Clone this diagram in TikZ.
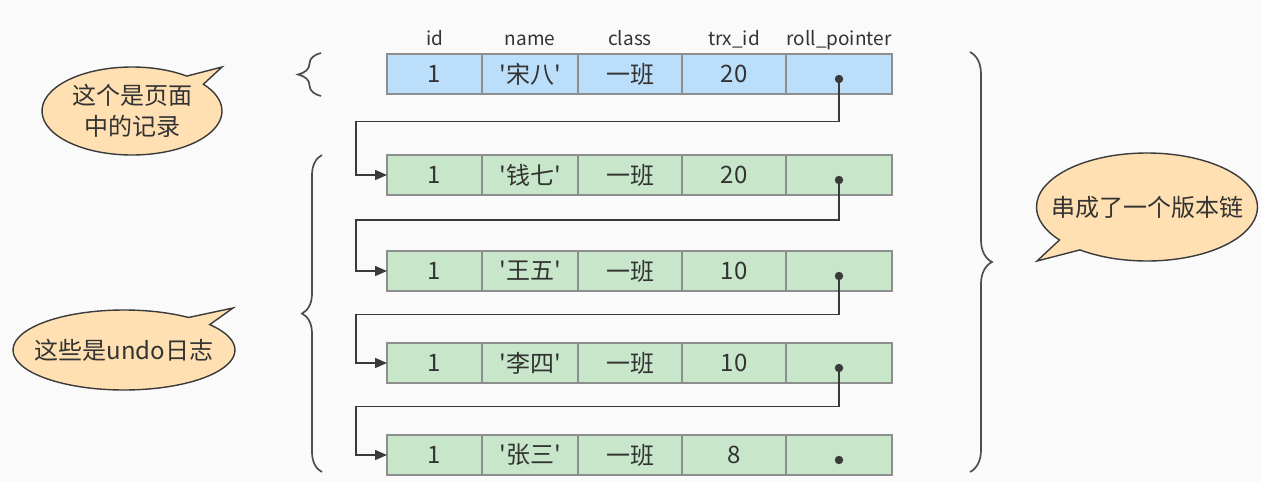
\documentclass[tikz,border=0pt]{standalone}
\usepackage{fontspec}
\setmainfont{Noto Sans CJK SC}
\usetikzlibrary{positioning}
\usetikzlibrary{calc}
\usetikzlibrary{arrows.meta}
\usetikzlibrary{shapes.callouts}
\usetikzlibrary{decorations.pathreplacing}

\definecolor{bgc}{HTML}{FAFAFA}
\definecolor{rowblue}{HTML}{BBDEFB}
\definecolor{rowgreen}{HTML}{C8E6C9}
\definecolor{cellline}{HTML}{8E8E8E}
\definecolor{bubblec}{HTML}{FFE0B2}
\definecolor{inkc}{HTML}{333333}
\definecolor{ptrc}{HTML}{3A3A3A}

\tikzset{
    cell/.style={draw=cellline, line width=1.3pt, minimum height=40pt, inner sep=0pt, outer sep=0pt,
        text=inkc, font=\fontsize{24}{24}\selectfont},
    head/.style={text=inkc, inner sep=0pt, anchor=base, font=\fontsize{19}{19}\selectfont},
    ptr/.style={draw=ptrc, line width=1.6pt, -{Triangle[length=12pt,width=10pt]}},
    brc/.style={draw=ptrc!90, line width=1.7pt, decorate, decoration={brace, amplitude=#1}},
    bubble/.style={ellipse callout, draw=ptrc, line width=1.4pt, fill=bubblec, text=inkc,
        inner xsep=-40pt, inner ysep=0pt, align=center,
        font=\fontsize{24}{31}\selectfont},
}

\begin{document}
\begin{tikzpicture}[x=1pt, y=-1pt]
    \fill[bgc] (0,0) rectangle (1261,482);
    \useasboundingbox (0,0) rectangle (1261,482);

    % rows
    \foreach \r/\y/\nm/\trx/\fc in {a/54/宋八/20/rowblue, b/155/钱七/20/rowgreen, c/251/王五/10/rowgreen, d/343/李四/10/rowgreen, e/435/张三/8/rowgreen}{
        \node[cell, fill=\fc, minimum width=95pt, anchor=north west] (\r1) at (387,\y) {1};
        \node[cell, fill=\fc, minimum width=96pt, right=0pt of \r1] (\r2) {\textquotesingle\nm\textquotesingle};
        \node[cell, fill=\fc, minimum width=104pt, right=0pt of \r2] (\r3) {一班};
        \node[cell, fill=\fc, minimum width=104pt, right=0pt of \r3] (\r4) {\trx};
        \node[cell, fill=\fc, minimum width=106pt, right=0pt of \r4] (\r5) {};
        \coordinate (\r p) at ($(\r5.center)+(0,5)$);
        \fill[ptrc] (\r p) circle (4.2pt);
    }

    % header
    \foreach \t [count=\c] in {id, name, class, trx\_id, roll\_pointer}
        \node[head] (h\c) at ($(a\c.north)+(0,-9)$) {\t};

    % roll pointers
    \foreach \s/\t in {a/b, b/c, c/d, d/e}
        \draw[ptr] (\s p) |- ($(\s1.south west)!.45!(\t1.north west)+(-31,0)$) |- (\t1.west);

    % braces
    \draw[brc=23pt] ($(a1.south west)+(-66,2)$) -- ($(a1.north west)+(-66,-1)$);
    \draw[brc=20pt] ($(e1.south west)+(-65,-3)$) -- ($(b1.north west)+(-65,0)$);
    \draw[brc=22pt] ($(a5.north east)+(78,-2)$) -- ($(e5.south east)+(78,-3)$);

    % bubbles
    \node[bubble, minimum width=180pt, minimum height=88pt, callout absolute pointer={(222,67)}] (rec) at (132,111) {这个是页面\\中的记录};
    \node[bubble, minimum width=222pt, minimum height=80pt, callout absolute pointer={(233,308)}] (undo) at (124,350) {这些是undo日志};
    \node[bubble, minimum width=221pt, minimum height=108pt, callout absolute pointer={(1037,261)}] (chain) at (1147,207) {串成了一个版本链};
\end{tikzpicture}
\end{document}
